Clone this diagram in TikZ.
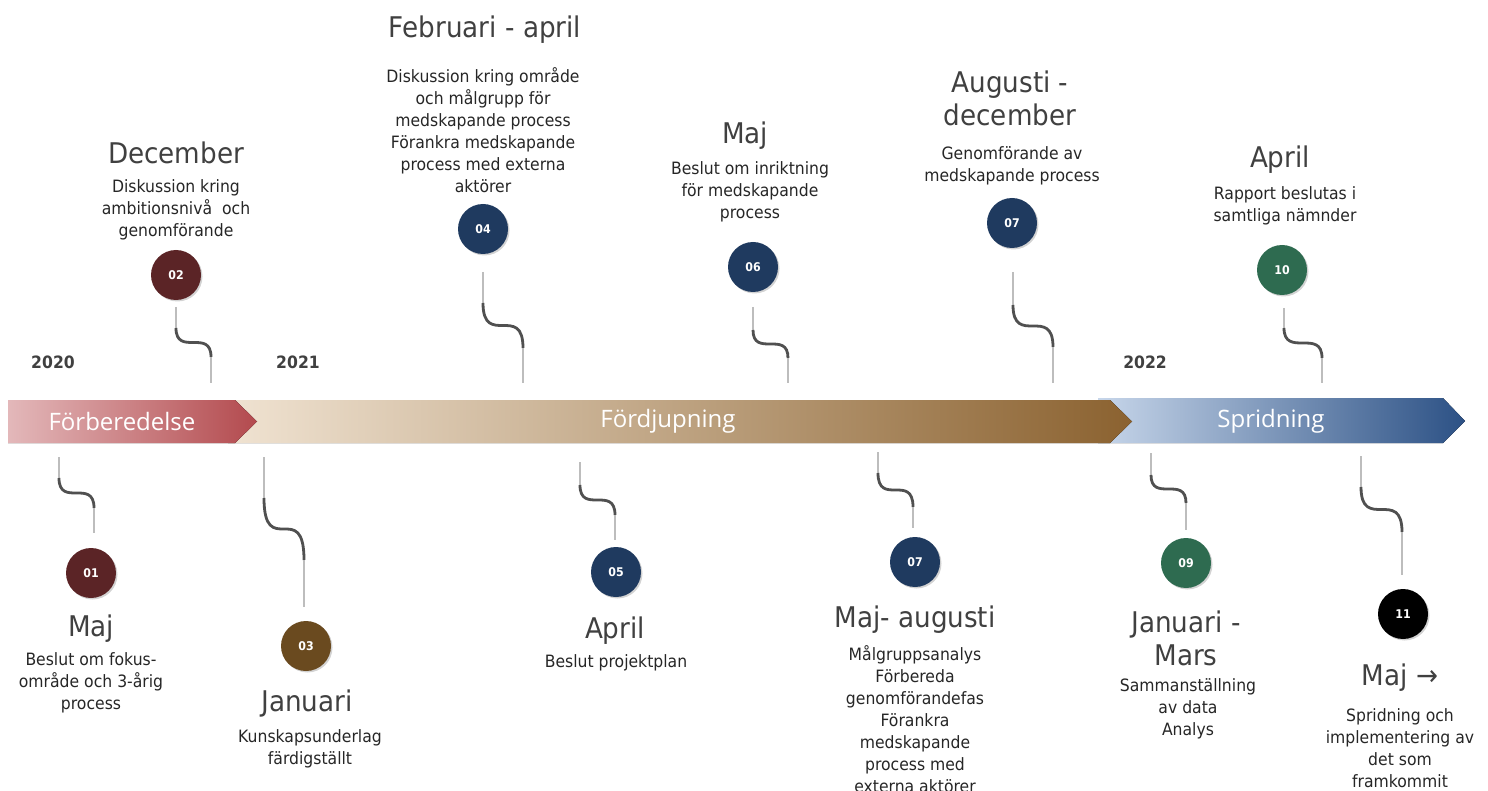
\documentclass[tikz,border=0pt]{standalone}
\usepackage{fontspec}
\setmainfont{DejaVu Sans}[FakeStretch=0.92]
\newfontfamily\barfont{Open Sans}
\usetikzlibrary{shadows}
\definecolor{maroon}{HTML}{5B2426}
\definecolor{brownc}{HTML}{6A4A1F}
\definecolor{navy}{HTML}{1F3A5F}
\definecolor{greenc}{HTML}{2E6B50}
\definecolor{titlegray}{HTML}{404040}
\definecolor{descgray}{HTML}{262626}
\definecolor{stemgray}{HTML}{BDBDBD}
\definecolor{wavegray}{HTML}{505050}
\newcommand\squig[7]{%
  \coordinate (#1a) at (#2,#3);
  \coordinate (#1b) at (#2,#4);
  \coordinate (#1c) at (#5,#6);
  \coordinate (#1d) at (#5,#7);
  \draw[stem] (#1a) -- (#1b);
  \draw[wave] (#1b) .. controls (#2,#6) and (#5,#4) .. (#1c);
  \draw[stem] (#1c) -- (#1d);
}
\begin{document}
\begin{tikzpicture}[x=1pt,y=-1pt,
  stem/.style={stemgray,line width=2.2pt},
  wave/.style={wavegray,line width=2.8pt},
  dot/.style={circle,minimum size=50pt,inner sep=0pt,text=white,
    font=\bfseries\fontsize{12}{12}\selectfont,
    drop shadow={opacity=0.35,shadow xshift=1.5pt,shadow yshift=-1.5pt}},
  ttl/.style={text=titlegray,font=\fontsize{28.5}{33}\selectfont,align=center,inner sep=0pt},
  desc/.style={text=descgray,font=\fontsize{17}{22}\selectfont,align=center,inner sep=0pt},
  yr/.style={text=titlegray,font=\bfseries\fontsize{17}{18}\selectfont,inner sep=0pt},
  barlbl/.style={text=white,font=\barfont\fontsize{24}{26}\selectfont,inner sep=0pt}]
\useasboundingbox (0,0) rectangle (1488,791);

% bars
\fill[left color={rgb,255:red,199;green,214;blue,234},middle color={rgb,255:red,165;green,185;blue,213},right color={rgb,255:red,44;green,81;blue,133}]
  (1098,398) -- (1443,398) -- (1465,421) -- (1443,443) -- (1098,443) -- cycle;
\fill[left color={rgb,255:red,240;green,227;blue,210},middle color={rgb,255:red,221;green,195;blue,162},right color={rgb,255:red,139;green,98;blue,48}]
  (228,400) -- (1110,400) -- (1132,421.5) -- (1110,443) -- (228,443) -- cycle;
\fill[left color={rgb,255:red,227;green,184;blue,186},right color={rgb,255:red,179;green,74;blue,78}]
  (8,400) -- (235,400) -- (257,421.5) -- (235,443) -- (8,443) -- cycle;
\node[barlbl] (b1) at (122,421) {Förberedelse};
\node[barlbl] (b2) at (668,421) {Fördjupning};
\node[barlbl] (b3) at (1271,421) {Spridning};

% years
\node[yr] (y20) at (53,362) {2020};
\node[yr] (y21) at (298,362) {2021};
\node[yr] (y22) at (1145,362) {2022};

% connectors top
\squig{s02}{176}{307}{328}{211}{357}{383}
\squig{s04}{483}{272}{303}{523}{348}{383}
\squig{s06}{753}{307}{330}{788}{358}{383}
\squig{s07t}{1013}{272}{305}{1053}{347}{383}
\squig{s10}{1284}{308}{328}{1322}{358}{383}
% connectors bottom
\squig{s01}{59}{457}{478}{94}{508}{533}
\squig{s03}{264}{457}{498}{304}{560}{607}
\squig{s05}{580}{462}{485}{615}{515}{540}
\squig{s07b}{878}{452}{473}{913}{507}{528}
\squig{s09}{1151}{453}{475}{1186}{503}{530}
\squig{s11}{1361}{456}{487}{1402}{532}{575}

% circles
\node[dot,fill=maroon] (c01) at (91,573) {01};
\node[dot,fill=maroon] (c02) at (176,275) {02};
\node[dot,fill=brownc] (c03) at (306,646) {03};
\node[dot,fill=navy] (c04) at (483,229) {04};
\node[dot,fill=navy] (c05) at (616,572) {05};
\node[dot,fill=navy] (c06) at (753,267) {06};
\node[dot,fill=navy] (c07t) at (1012,223) {07};
\node[dot,fill=navy] (c07b) at (915,562) {07};
\node[dot,fill=greenc] (c09) at (1186,563) {09};
\node[dot,fill=greenc] (c10) at (1282,270) {10};
\node[dot,fill=black] (c11) at (1403,614) {11};

% top texts
\node[ttl] (t02) at (176,153) {December};
\node[desc] (d02) at (176,210) {Diskussion kring\\ambitionsnivå~ och\\genomförande};
\node[ttl] (t04) at (485,30) {Februari - april};
\node[desc] (d04) at (483,130) {Diskussion kring område\\och målgrupp för\\medskapande process\\Förankra medskapande\\process med externa\\aktörer};
\node[ttl] (t06) at (745,136) {Maj};
\node[desc] (d06) at (750,192) {Beslut om inriktning\\för medskapande\\process};
\node[ttl] (t07t) at (1010,98) {Augusti -\\december};
\node[desc] (d07t) at (1012,165.5) {Genomförande av\\medskapande process};
\node[ttl] (t10) at (1280,160) {April};
\node[desc] (d10) at (1285,205.5) {Rapport beslutas i\\samtliga nämnder};

% bottom texts
\node[ttl] (t01) at (91,629) {Maj};
\node[desc] (d01) at (91,683) {Beslut om fokus-\\område och 3-årig\\process};
\node[ttl] (t03) at (307,704) {Januari};
\node[desc] (d03) at (310,749) {Kunskapsunderlag\\färdigställt};
\node[ttl] (t05) at (615,631) {April};
\node[desc] (d05) at (616,663) {Beslut projektplan};
\node[ttl] (t07b) at (915,620) {Maj- augusti};
\node[desc] (d07b) at (915,719) {Målgruppsanalys\\Förbereda\\genomförandefas\\Förankra\\medskapande\\process med\\externa aktörer};
\node[ttl] (t09) at (1186,638.5) {Januari -\\Mars};
\node[desc] (d09) at (1188,709) {Sammanställning\\av data\\Analys};
\node[ttl] (t11) at (1400,678) {Maj →};
\node[desc] (d11) at (1400,748) {Spridning och\\implementering av\\det som\\framkommit};
\end{tikzpicture}
\end{document}
